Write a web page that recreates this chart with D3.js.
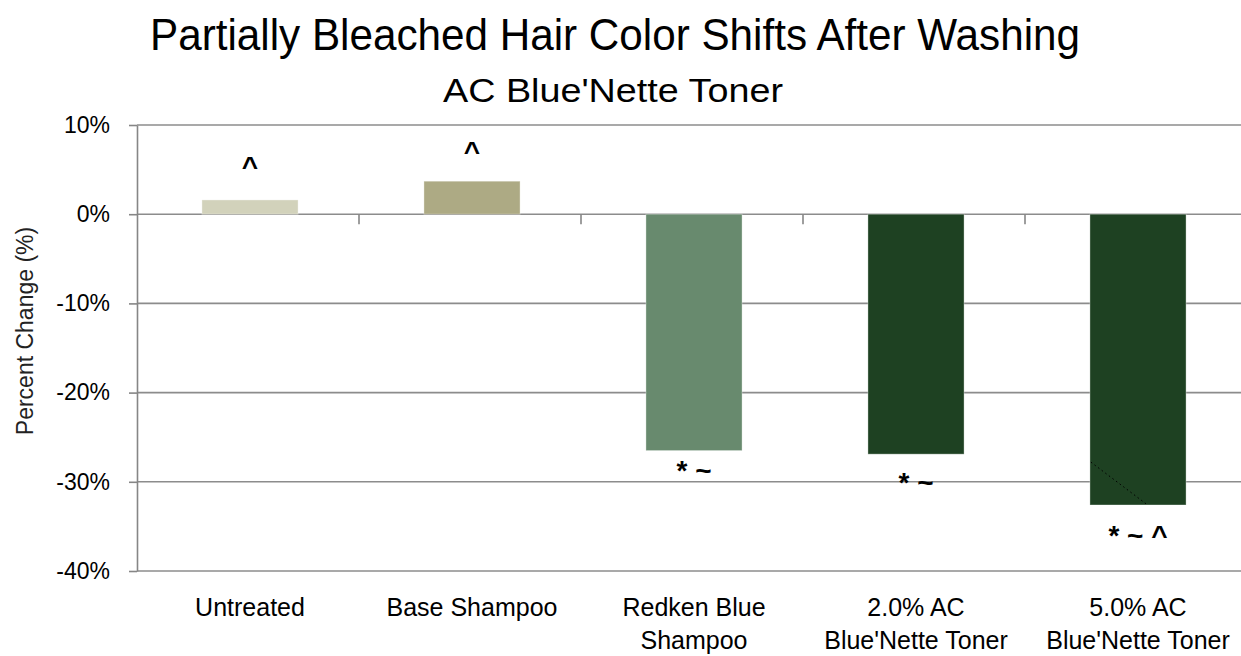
<!DOCTYPE html>
<html>
<head>
<meta charset="utf-8">
<script src="https://cdn.jsdelivr.net/npm/d3@7"></script>
<style>
  html, body { margin: 0; padding: 0; background: #fff; }
  svg { display: block; }
  text { font-family: "Liberation Sans", Arial, sans-serif; fill: #000; }
</style>
</head>
<body>
<svg id="svg" width="1241" height="656"></svg>
<script>

// data
var categories = [
  ["Untreated"],
  ["Base Shampoo"],
  ["Redken Blue", "Shampoo"],
  ["2.0% AC", "Blue'Nette Toner"],
  ["5.0% AC", "Blue'Nette Toner"]
];
var percentChange = [1.6, 3.7, -26.5, -26.9, -32.6];
var errorSize = [3.8, 3.4, 2.15, 3.1, 3.35];   // where the significance marks sit
var sigMarks = ["^", "^", "* ~", "* ~", "* ~ ^"];
var yTicks = [10, 0, -10, -20, -30, -40];

var barColors = ["#d2d2bb", "#adaa84", "#688a6e", "#1e4122", "#1e4122"];

var svg = d3.select("#svg");
var plot = {left: 137, right: 1247, top: 125, bottom: 571};

var x = d3.scaleBand()
  .domain(d3.range(categories.length))
  .range([plot.left, plot.right])
  .paddingInner(0.567)
  .paddingOuter(0.2835);

var y = d3.scaleLinear()
  .domain([-40, 10])
  .range([plot.bottom, plot.top]);

// title
svg.append("text")
  .attr("x", 615).attr("y", 50)
  .attr("text-anchor", "middle")
  .attr("font-size", 44)
  .attr("textLength", 930)
  .attr("lengthAdjust", "spacingAndGlyphs")
  .text("Partially Bleached Hair Color Shifts After Washing");

svg.append("text")
  .attr("x", 613).attr("y", 102)
  .attr("text-anchor", "middle")
  .attr("font-size", 33)
  .attr("textLength", 340)
  .attr("lengthAdjust", "spacingAndGlyphs")
  .text("AC Blue'Nette Toner");

// gridlines
svg.append("g")
  .selectAll("line")
  .data(yTicks)
  .enter()
  .append("line")
  .attr("x1", plot.left).attr("x2", plot.right)
  .attr("y1", d => y(d)).attr("y2", d => y(d))
  .attr("stroke", "#8c8c8c")
  .attr("stroke-width", 1.6);

// y axis
var yAxis = svg.append("g")
  .attr("transform", "translate(" + plot.left + ",0)")
  .call(d3.axisLeft(y).tickValues(yTicks).tickSize(8).tickSizeOuter(0).tickPadding(19)
    .tickFormat(d => d + "%"));
yAxis.select(".domain").attr("stroke", "#868686").attr("stroke-width", 1.6);
yAxis.selectAll(".tick line").attr("stroke", "#868686").attr("stroke-width", 1.6);
yAxis.selectAll(".tick text")
  .attr("font-size", 23)
  .attr("fill", "#000");

svg.append("text")
  .attr("transform", "translate(33,331) rotate(-90)")
  .attr("text-anchor", "middle")
  .attr("font-size", 23)
  .style("fill", "#222")
  .text("Percent Change (%)");

// bars
var bars = svg.append("g");
bars.selectAll("rect")
  .data(percentChange)
  .enter()
  .append("rect")
  .attr("x", (d, i) => x(i) + 2)
  .attr("y", d => y(Math.max(d, 0)))
  .attr("width", x.bandwidth())
  .attr("height", d => Math.abs(y(d) - y(0)))
  .attr("fill", (d, i) => barColors[i])
  .attr("stroke", "rgba(255,255,255,0.35)")
  .attr("stroke-width", 1);

// the stray dotted line inside the last bar
var last = percentChange.length - 1;
svg.append("line")
  .attr("x1", x(last) + 3).attr("y1", y(-27.8))
  .attr("x2", x(last) + 2 + x.bandwidth() * 0.6).attr("y2", y(percentChange[last]))
  .attr("stroke", "#000")
  .attr("stroke-width", 1)
  .attr("stroke-dasharray", "1.5,3");

// category axis along 0%
var step = x.step();
svg.append("g")
  .selectAll("line")
  .data(d3.range(1, categories.length + 1))
  .enter()
  .append("line")
  .attr("x1", d => plot.left + d * step).attr("x2", d => plot.left + d * step)
  .attr("y1", y(0)).attr("y2", y(0) + 10)
  .attr("stroke", "#868686")
  .attr("stroke-width", 1.6);

// category labels at the bottom
var lab = svg.append("g")
  .selectAll("text")
  .data(categories)
  .enter()
  .append("text")
  .attr("text-anchor", "middle")
  .attr("font-size", 25)
  .attr("x", (d, i) => x(i) + x.bandwidth() / 2 + 2);
lab.selectAll("tspan")
  .data(d => d)
  .enter()
  .append("tspan")
  .attr("x", function() { return this.parentNode.getAttribute("x"); })
  .attr("y", (d, j) => y(-40) + 45 + j * 33)
  .text(d => d);

// significance marks
svg.append("g")
  .selectAll("text")
  .data(sigMarks)
  .enter()
  .append("text")
  .attr("text-anchor", "middle")
  .attr("font-size", 28)
  .attr("font-weight", "bold")
  .attr("x", (d, i) => x(i) + x.bandwidth() / 2 + 2)
  .attr("y", (d, i) => {
    var v = percentChange[i];
    var at = v >= 0 ? v + errorSize[i] : v - errorSize[i];
    return y(at) + 10;
  })
  .text(d => d);

</script>
</body>
</html>
